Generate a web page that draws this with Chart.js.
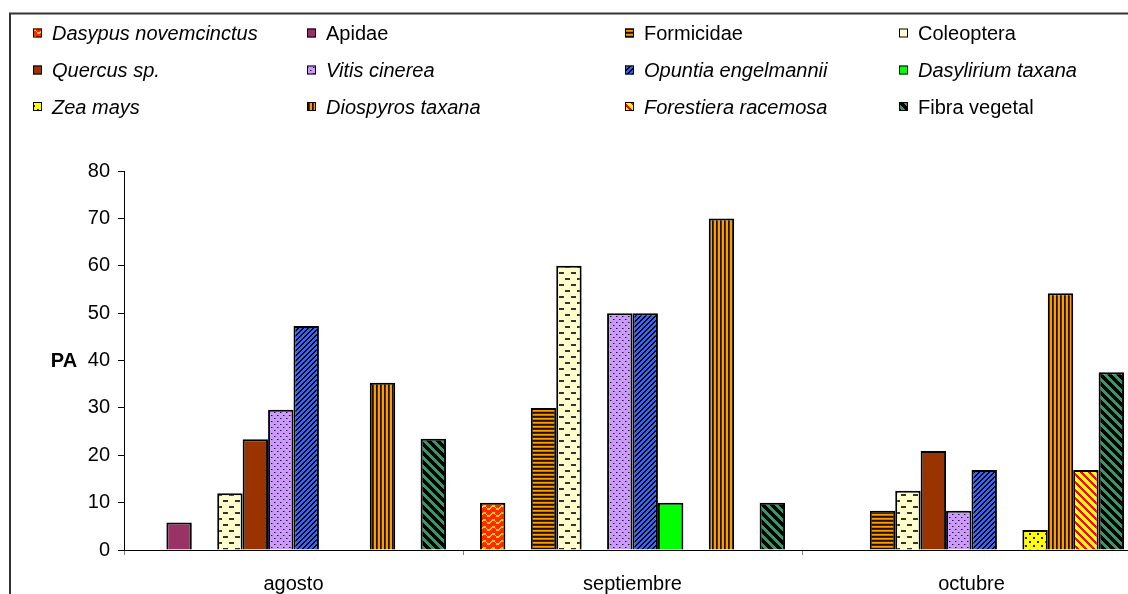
<!DOCTYPE html>
<html>
<head>
<meta charset="utf-8">
<script src="https://cdn.jsdelivr.net/npm/chart.js@4/dist/chart.umd.min.js"></script>
<style>
  html, body { margin: 0; padding: 0; overflow: hidden; background: #fff; width: 1128px; height: 594px; }
  canvas { display: block; }
</style>
</head>
<body>
<canvas id="c" width="1160" height="594"></canvas>
<script>
// Months on the x axis
const categories = ['agosto', 'septiembre', 'octubre'];

// Legend labels, one per food item, in series order
const seriesNames = [
  'Dasypus novemcinctus', 'Apidae', 'Formicidae', 'Coleoptera',
  'Quercus sp.', 'Vitis cinerea', 'Opuntia engelmannii', 'Dasylirium taxana',
  'Zea mays', 'Diospyros taxana', 'Forestiera racemosa', 'Fibra vegetal'
];
// Scientific names are set in italics
const italicNames = [true, false, false, false, true, true, true, true, true, true, true, false];

// PA values per month (null = item not recorded that month)
const dasypus     = [null, 10,   null];
const apidae      = [5.8,  null, null];
const formicidae  = [null, 30,   8.3];
const coleoptera  = [12,   60,   12.5];
const quercus     = [23.4, null, 20.9];
const vitis       = [29.6, 50,   8.3];
const opuntia     = [47.3, 50,   16.9];
const dasylirium  = [null, 10,   null];
const zea         = [null, null, 4.2];
const diospyros   = [35.3, 70,   54.2];
const forestiera  = [null, null, 16.9];
const fibra       = [23.5, 10,   37.5];

// Value axis range
const yMin = 0, yMax = 80, yStep = 10;
const yTitle = 'PA';

const FONT = '"Liberation Sans", Arial, sans-serif';
const FONT_SIZE = 20;

// ---- fill patterns, painted pixel by pixel into small repeating tiles ----
const scratch = document.createElement('canvas').getContext('2d');
function tile(w, h, paint) {
  const c = document.createElement('canvas');
  c.width = w; c.height = h;
  const g = c.getContext('2d');
  for (let y = 0; y < h; y++) {
    for (let x = 0; x < w; x++) {
      g.fillStyle = paint(x, y);
      g.fillRect(x, y, 1, 1);
    }
  }
  return scratch.createPattern(c, 'repeat');
}
const mod = (a, n) => ((a % n) + n) % n;

const fills = [
  // wavy yellow on red
  tile(9, 7, (x, y) => {
    const yc = 3 + 1.6 * Math.sin(2 * Math.PI * x / 9);
    return Math.abs(y - yc) < 1.0 ? '#FFD000' : '#FF2800';
  }),
  '#993366',
  // narrow horizontal lines on orange
  tile(1, 4, (x, y) => y === 0 ? '#1a0f00' : y === 1 ? '#4a2a00' : y === 2 ? '#FF9900' : '#c87800'),
  // dashed horizontal on pale yellow
  tile(12, 12, (x, y) => ((y === 2 || y === 3) && x >= 1 && x <= 5) ||
                         ((y === 8 || y === 9) && x >= 7 && x <= 11) ? '#333333' : '#FFFFCC'),
  '#993300',
  // dotted lavender
  tile(6, 6, (x, y) => (x === 1 && y === 1) || (x === 4 && y === 4) ? '#1a1020'
                     : (x === 2 && y === 1) || (x === 5 && y === 4) ? '#7a5c99' : '#CC99FF'),
  // dark upward diagonal on blue
  tile(5, 5, (x, y) => mod(x + y, 5) < 2 ? '#000000' : '#3366FF'),
  '#00FF00',
  // dotted yellow
  tile(8, 8, (x, y) => ((x === 1 || x === 2) && (y === 1 || y === 2)) ||
                       ((x === 5 || x === 6) && (y === 5 || y === 6)) ? '#222200' : '#FFFF00'),
  // narrow vertical lines on orange
  tile(4, 1, (x) => x === 0 ? '#1a0f00' : x === 1 ? '#5a3400' : '#FF9900'),
  // wide red downward diagonal on yellow
  tile(8, 8, (x, y) => mod(x - y, 8) < 3 ? '#FF0000' : '#FFFF00'),
  // wide green downward diagonal on black
  tile(9, 9, (x, y) => mod(x - y, 9) < 4 ? '#339966' : '#000000')
];

const seriesValues = [dasypus, apidae, formicidae, coleoptera, quercus, vitis,
                      opuntia, dasylirium, zea, diospyros, forestiera, fibra];

const datasets = seriesValues.map((vals, i) => ({
  label: seriesNames[i],
  data: vals,
  backgroundColor: fills[i],
  borderColor: '#000000',
  borderWidth: 2
}));

// Frame, horizontal axis title and a 4-column legend drawn on the canvas
const decorations = {
  id: 'decorations',
  afterDraw(chart) {
    const ctx = chart.ctx;
    const area = chart.chartArea;
    ctx.save();

    // outer frame
    ctx.strokeStyle = '#333333';
    ctx.lineWidth = 2;
    ctx.strokeRect(10, 13.5, 1300, 700);

    // y axis title, set horizontally beside the middle tick
    ctx.fillStyle = '#000';
    ctx.font = 'bold ' + FONT_SIZE + 'px ' + FONT;
    ctx.textAlign = 'center';
    ctx.textBaseline = 'middle';
    ctx.fillText(yTitle, 64, (area.top + area.bottom) / 2 + 1);

    // legend
    const colX = [33, 307, 625, 899];
    const rowY = [33, 70, 106.5];
    ctx.textAlign = 'left';
    ctx.textBaseline = 'alphabetic';
    chart.data.datasets.forEach((ds, i) => {
      const bx = colX[i % 4], cy = rowY[Math.floor(i / 4)];
      ctx.fillStyle = ds.backgroundColor;
      ctx.fillRect(bx, cy - 4.5, 9, 9);
      ctx.strokeStyle = '#000';
      ctx.lineWidth = 1;
      ctx.strokeRect(bx + 0.5, cy - 4, 8, 8);
      ctx.fillStyle = '#000';
      ctx.font = (italicNames[i] ? 'italic ' : '') + FONT_SIZE + 'px ' + FONT;
      ctx.fillText(ds.label, bx + 19, cy + 7);
    });
    ctx.restore();
  }
};

new Chart(document.getElementById('c'), {
  type: 'bar',
  data: { labels: categories, datasets },
  options: {
    responsive: false,
    animation: false,
    layout: { padding: { top: 171, right: 19, left: 0, bottom: 0 } },
    plugins: { legend: { display: false }, tooltip: { enabled: false } },
    datasets: { bar: { categoryPercentage: 0.9, barPercentage: 1.0 } },
    scales: {
      x: {
        grid: { display: true, drawOnChartArea: false, drawTicks: true, tickLength: 5, color: '#808080', offset: true },
        border: { display: true, color: '#000', width: 1 },
        ticks: { font: { family: FONT, size: FONT_SIZE }, color: '#000', padding: 17, maxRotation: 0 },
        afterFit(s) { s.height = 44; }
      },
      y: {
        min: yMin, max: yMax,
        ticks: { stepSize: yStep, font: { family: FONT, size: FONT_SIZE }, color: '#000', padding: 8 },
        grid: { drawOnChartArea: false, drawTicks: true, tickLength: 6, color: '#000' },
        border: { display: true, color: '#000', width: 1 },
        afterFit(s) { s.width = 124; }
      }
    }
  },
  plugins: [decorations]
});
</script>
</body>
</html>
